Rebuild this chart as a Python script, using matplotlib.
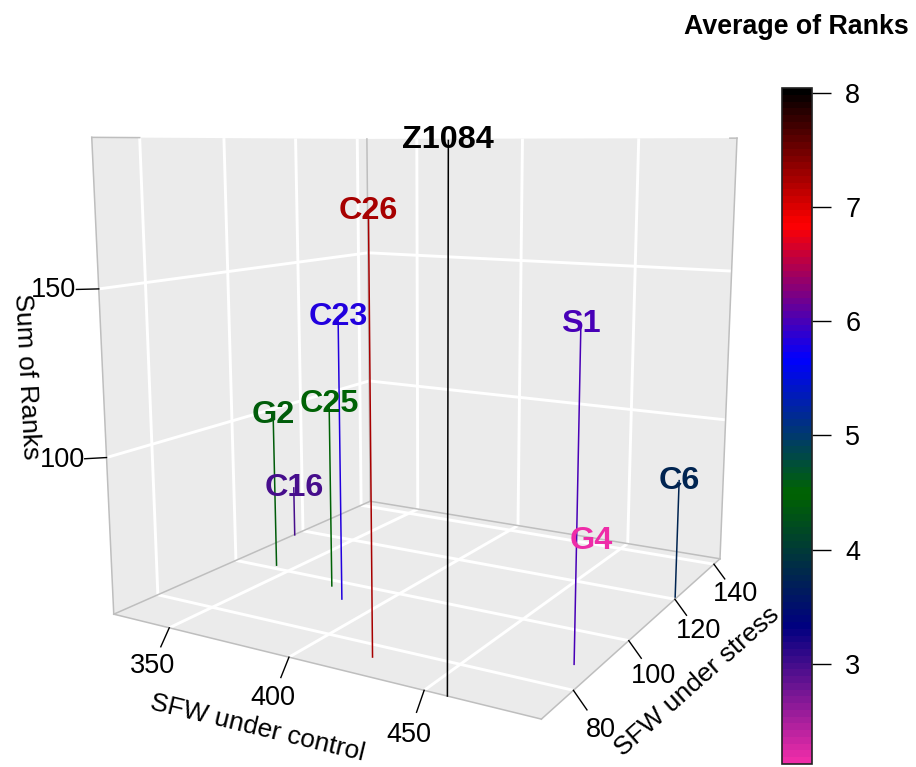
import matplotlib
matplotlib.use('Agg')
import matplotlib.pyplot as plt
from matplotlib.cm import ScalarMappable
from matplotlib.colors import LinearSegmentedColormap, Normalize
from mpl_toolkits.mplot3d import proj3d
from mpl_toolkits.mplot3d.art3d import Poly3DCollection

plt.rcParams['font.family'] = ['Liberation Sans', 'DejaVu Sans']

# values
names = ['Z1084', 'C26', 'C23', 'C25', 'G2', 'C16', 'S1', 'G4', 'C6']
sfw_control = [458, 423, 385, 374, 342, 325, 481, 436.5, 488]
sfw_stress = [70, 76, 93.3, 97.6, 101.5, 117.2, 88, 140.6, 121]
sum_ranks = [192, 174, 140, 111, 103, 69, 145, 52, 89]
avg_ranks = [8, 7.24, 5.8, 4.55, 4.4, 3.0, 6.02, 2.13, 3.76]

x_ticks = [350, 400, 450]
y_ticks = [80, 100, 120, 140]
z_ticks = [100, 150]
cbar_ticks = [3, 4, 5, 6, 7, 8]

xmin, xmax = 324.7, 488.7
ymin, ymax = 70.0, 143.4
zmin, zmax = 51.4, 193.0
rank_min, rank_max = 2.125, 8.04

W, H = 916, 767
fig = plt.figure(figsize=(W / 100, H / 100), dpi=100)

# colour scale
ramp = ['#EE2CA8', 'navy', 'darkgreen', 'blue', 'red', 'black']
cmap = LinearSegmentedColormap.from_list('ranks', ramp, N=100)
norm = Normalize(rank_min, rank_max)

# 3d box
ax = fig.add_axes([43 / W, 6 / H, 765 / W, 765 / H], projection='3d')
ax.set_proj_type('persp', focal_length=0.308)
ax.view_init(elev=10, azim=-60)
ax.set_box_aspect((1, 1, 0.995))
ax.computed_zorder = False
ax.set_axis_off()
ax.set_xlim(xmin, xmax, view_margin=0)
ax.set_ylim(ymin, ymax, view_margin=0)
ax.set_zlim(zmin, zmax, view_margin=0)


def label(x, y, z, s, **kw):
    # plain 2d text placed at the projected 3d point
    px, py, _ = proj3d.proj_transform(x, y, z, ax.get_proj())
    ax.text2D(px, py, s, transform=ax.transData, ha='center', va='center', **kw)


panes = [
    [(xmin, ymin, zmin), (xmax, ymin, zmin), (xmax, ymax, zmin), (xmin, ymax, zmin)],
    [(xmin, ymin, zmin), (xmin, ymax, zmin), (xmin, ymax, zmax), (xmin, ymin, zmax)],
    [(xmin, ymax, zmin), (xmax, ymax, zmin), (xmax, ymax, zmax), (xmin, ymax, zmax)],
]
ax.add_collection3d(Poly3DCollection(panes, facecolors='#EBEBEB', edgecolors='none', zorder=1), autolim=False)

grid = dict(color='white', lw=2.1, zorder=2, solid_capstyle='butt')
for xt in x_ticks:
    ax.plot([xt, xt], [ymin, ymax], [zmin, zmin], **grid)
    ax.plot([xt, xt], [ymax, ymax], [zmin, zmax], **grid)
for yt in y_ticks:
    ax.plot([xmin, xmax], [yt, yt], [zmin, zmin], **grid)
    ax.plot([xmin, xmin], [yt, yt], [zmin, zmax], **grid)
for zt in z_ticks:
    ax.plot([xmin, xmin], [ymin, ymax], [zt, zt], **grid)
    ax.plot([xmin, xmax], [ymax, ymax], [zt, zt], **grid)

# box edges
edge = dict(color='#BEBEBE', lw=1.1, zorder=2.5)
ax.plot([xmin, xmax], [ymin, ymin], [zmin, zmin], **edge)
ax.plot([xmax, xmax], [ymin, ymax], [zmin, zmin], **edge)
ax.plot([xmin, xmin], [ymin, ymax], [zmin, zmin], **edge)
ax.plot([xmin, xmax], [ymax, ymax], [zmin, zmin], **edge)
ax.plot([xmin, xmin], [ymin, ymin], [zmin, zmax], **edge)
ax.plot([xmin, xmin], [ymax, ymax], [zmin, zmax], **edge)
ax.plot([xmax, xmax], [ymax, ymax], [zmin, zmax], **edge)
ax.plot([xmin, xmin], [ymin, 80], [zmax, zmax], **edge)
ax.plot([486, xmax], [ymax, ymax], [zmax, zmax], **edge)

# ticks and tick labels
tick = dict(color='black', lw=1, zorder=2.6)
for xt in x_ticks:
    ax.plot([xt, xt], [ymin, ymin - 2], [zmin, zmin - 4.5], **tick)
    label(xt, ymin - 4, zmin - 9, str(xt), fontsize=19.5)
for yt in y_ticks:
    ax.plot([xmax, xmax + 4.5], [yt, yt], [zmin, zmin - 4.5], **tick)
    label(xmax + 9, yt, zmin - 9, str(yt), fontsize=19.5)
for zt in z_ticks:
    ax.plot([xmin, xmin - 5.2], [ymin, ymin - 2.2], [zt, zt], **tick)
    label(xmin - 10.4, ymin - 4.4, zt, str(zt), fontsize=19.5)

# one stem and one bold name per line
for name, xv, yv, zv, rank in zip(names, sfw_control, sfw_stress, sum_ranks, avg_ranks):
    col = cmap(norm(rank))
    ax.plot([xv, xv], [yv, yv], [zmin, zv], color=col, lw=1.1, zorder=3)
    label(xv, yv, zv, name, color=col, fontsize=23.3, fontweight='bold', zorder=4)

# axis titles
fig.text(258 / W, 1 - 728 / H, 'SFW under control', fontsize=19, rotation=-13.6, rotation_mode='anchor', ha='center', va='center')
fig.text(697 / W, 1 - 682 / H, 'SFW under stress', fontsize=19, rotation=41.7, rotation_mode='anchor', ha='center', va='center')
fig.text(26 / W, 1 - 377 / H, 'Sum of Ranks', fontsize=19, rotation=-87, rotation_mode='anchor', ha='center', va='center')

# colour bar
cax = fig.add_axes([782 / W, 1 - 764 / H, 30 / W, 676 / H])
cb = fig.colorbar(ScalarMappable(norm=norm, cmap=cmap), cax=cax, ticks=cbar_ticks)
cb.ax.tick_params(length=14, width=1, pad=10, labelsize=19.5)
cb.outline.set_linewidth(1.2)
cb.outline.set_edgecolor('#222222')
fig.text(796 / W, 1 - 27.5 / H, 'Average of Ranks', fontsize=19.3, fontweight='bold', ha='center', va='center')

fig.savefig('out.png', dpi=100)
